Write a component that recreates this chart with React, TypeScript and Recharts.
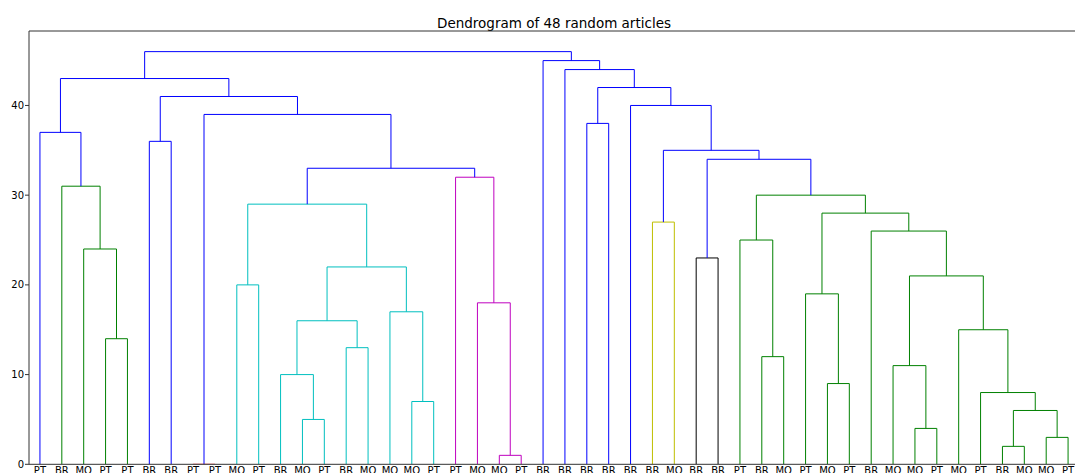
import React from 'react';
import { LineChart, Line, XAxis, YAxis, ReferenceLine } from 'recharts';

const chartTitle = 'Dendrogram of 48 random articles';

const leafLabels = [
  'PT', 'BR', 'MO', 'PT', 'PT', 'BR', 'BR', 'PT', 'PT', 'MO', 'PT', 'BR', 'MO', 'PT', 'BR', 'MO',
  'MO', 'MO', 'PT', 'PT', 'MO', 'MO', 'PT', 'BR', 'BR', 'BR', 'BR', 'BR', 'BR', 'MO', 'BR', 'BR',
  'PT', 'BR', 'MO', 'PT', 'MO', 'PT', 'BR', 'MO', 'MO', 'PT', 'MO', 'PT', 'BR', 'MO', 'MO', 'PT',
];

// linkage: node ids 0..47 are leaves, 48+k is the k-th merge
const linkLeft = [7, 21, 44, 46, 40, 12, 50, 17, 43, 36, 11, 39, 33, 14, 3, 42, 58, 16, 20, 35, 9, 59, 64, 30, 2, 32, 38, 28, 67, 68, 73, 1, 19, 77, 71, 75, 5, 0, 25, 48, 27, 84, 86, 85, 24, 23, 91];
const linkRight = [8, 22, 45, 47, 41, 13, 51, 18, 54, 37, 53, 52, 34, 15, 4, 56, 61, 55, 49, 57, 10, 63, 65, 31, 62, 60, 69, 29, 74, 70, 76, 72, 66, 80, 78, 82, 6, 79, 26, 81, 83, 87, 88, 89, 90, 92, 93];
const linkHeight = [0, 1, 2, 3, 4, 5, 6, 7, 8, 9, 10, 11, 12, 13, 14, 15, 16, 17, 18, 19, 20, 21, 22, 23, 24, 25, 26, 27, 28, 29, 30, 31, 32, 33, 34, 35, 36, 37, 38, 39, 40, 41, 42, 43, 44, 45, 46];
const linkCluster = [
  'r', 'm', 'g', 'g', 'g', 'c', 'g', 'c', 'g', 'g', 'c', 'g', 'g', 'c', 'g', 'g',
  'c', 'c', 'm', 'g', 'c', 'g', 'c', 'k', 'g', 'g', 'g', 'y', 'g', 'c', 'g', 'g',
  'm', 'b', 'b', 'b', 'b', 'b', 'b', 'b', 'b', 'b', 'b', 'b', 'b', 'b', 'b',
];

const yTicks = [0, 10, 20, 30, 40];
const yMax = 48.3;

const palette: Record<string, string> = {
  b: '#0000ff',
  g: '#008000',
  r: '#ff0000',
  c: '#00bfbf',
  m: '#bf00bf',
  y: '#bfbf00',
  k: '#000000',
};

const leafX = leafLabels.map((_, i) => 5 + 10 * i);
const nodeX: number[] = [...leafX];
const nodeY: number[] = leafLabels.map(() => 0);
const links = linkHeight.map((h, k) => {
  const a = linkLeft[k];
  const b = linkRight[k];
  const xa = nodeX[a];
  const xb = nodeX[b];
  const pts = [
    { x: xa, y: nodeY[a] },
    { x: xa, y: h },
    { x: xb, y: h },
    { x: xb, y: nodeY[b] },
  ];
  nodeX.push((xa + xb) / 2);
  nodeY.push(h);
  return { pts, color: palette[linkCluster[k]] };
});

const FONT = '"DejaVu Sans", sans-serif';

export default function App() {
  return (
    <div
      style={{
        position: 'absolute',
        left: 0,
        top: 0,
        width: 1075,
        height: 473,
        overflow: 'hidden',
        background: '#fff',
      }}
    >
      <div
        style={{
          position: 'absolute',
          left: 0,
          top: 15,
          width: 1108,
          textAlign: 'center',
          fontFamily: FONT,
          fontSize: 13.5,
          lineHeight: '16px',
          color: '#000',
        }}
      >
        {chartTitle}
      </div>
      <div style={{ position: 'absolute', left: 0, top: 0 }}>
        <LineChart
          width={1090}
          height={520}
          margin={{ top: 31, right: 11, bottom: 25.7, left: 0 }}
        >
          <XAxis
            type="number"
            dataKey="x"
            domain={[0, 480]}
            ticks={leafX}
            interval={0}
            allowDataOverflow
            height={30}
            tickLine={false}
            tickSize={0}
            tickMargin={2.4}
            axisLine={{ stroke: '#333', strokeWidth: 1 }}
            tickFormatter={(v: number) => leafLabels[Math.round((v - 5) / 10)]}
            tick={{ fontSize: 10, fill: '#000', fontFamily: FONT }}
          />
          <YAxis
            type="number"
            domain={[0, yMax]}
            ticks={yTicks}
            allowDataOverflow
            width={29}
            tickSize={4}
            tickMargin={1}
            axisLine={{ stroke: '#333', strokeWidth: 1 }}
            tickLine={{ stroke: '#333' }}
            tick={{ fontSize: 10, fill: '#000', fontFamily: FONT }}
          />
          <ReferenceLine y={yMax} stroke="#333" strokeWidth={1} />
          <ReferenceLine x={480} stroke="#333" strokeWidth={1} />
          {links.map((l, i) => (
            <Line
              key={i}
              data={l.pts}
              dataKey="y"
              type="linear"
              stroke={l.color}
              strokeWidth={1}
              dot={false}
              activeDot={false}
              isAnimationActive={false}
              legendType="none"
            />
          ))}
        </LineChart>
      </div>
    </div>
  );
}
